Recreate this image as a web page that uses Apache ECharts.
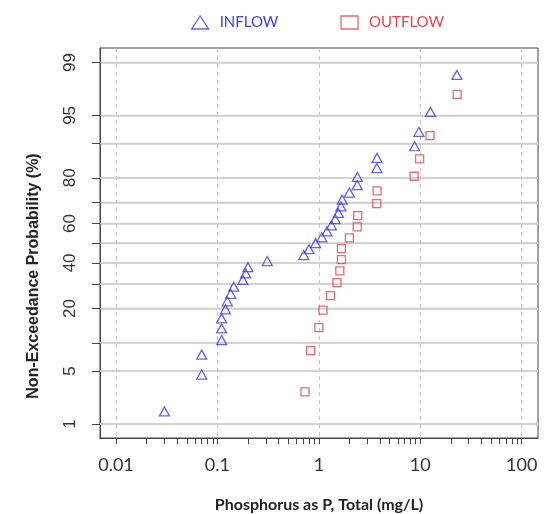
<!DOCTYPE html>
<html>
<head>
<meta charset="utf-8">
<script src="https://cdn.jsdelivr.net/npm/echarts@6.0.0/dist/echarts.min.js"></script>
<style>
  html, body { margin: 0; padding: 0; background: #fff; }
  #chart { width: 549px; height: 514px; }
</style>
</head>
<body>
<div id="chart"></div>
<script>
// concentrations (mg/L) and plotting positions (%)
const inflowConc = [0.03, 0.07, 0.07, 0.11, 0.11, 0.11, 0.12, 0.125, 0.135, 0.145, 0.178, 0.19, 0.2, 0.31,
  0.71, 0.8, 0.93, 1.07, 1.2, 1.33, 1.45, 1.56, 1.65, 1.7, 2.0, 2.39, 2.4, 3.73, 3.75, 8.8, 9.7, 12.6, 23.0];
const inflowProb = [1.52, 4.55, 7.58, 10.61, 13.64, 16.67, 19.7, 22.73, 25.76, 28.79, 31.82, 34.85, 37.88, 40.91,
  43.94, 46.97, 50.0, 53.03, 56.06, 59.09, 62.12, 65.15, 68.18, 71.21, 74.24, 77.27, 80.3, 83.33, 86.36, 89.39, 92.42, 95.45, 98.48];
const outflowConc = [0.73, 0.83, 1.0, 1.1, 1.3, 1.51, 1.61, 1.67, 1.67, 2.0, 2.39, 2.42, 3.72, 3.75, 8.7, 9.85, 12.5, 23.1];
const outflowProb = [2.78, 8.33, 13.89, 19.44, 25.0, 30.56, 36.11, 41.67, 47.22, 52.78, 58.33, 63.89, 69.44, 75.0,
  80.56, 86.11, 91.67, 97.22];

const xDecades = [0.01, 0.1, 1, 10, 100];
const yLabelProbs = [1, 5, 20, 40, 60, 80, 95, 99];
const yGridProbs = [1, 5, 10, 20, 30, 40, 50, 60, 70, 80, 90, 95, 99];

const blue = '#3f3fd6';
const red = '#e0474c';

// inverse normal cdf (Acklam) -> probability axis
function qnorm(p) {
  const a = [-39.69683028665376, 220.9460984245205, -275.9285104469687, 138.357751867269, -30.66479806614716, 2.506628277459239];
  const b = [-54.47609879822406, 161.5858368580409, -155.6989798598866, 66.80131188771972, -13.28068155288572];
  const c = [-0.007784894002430293, -0.3223964580411365, -2.400758277161838, -2.549732539343734, 4.374664141464968, 2.938163982698783];
  const d = [0.007784695709041462, 0.3224671290700398, 2.445134137142996, 3.754408661907416];
  const pl = 0.02425;
  let q, r;
  if (p < pl) {
    q = Math.sqrt(-2 * Math.log(p));
    return (((((c[0] * q + c[1]) * q + c[2]) * q + c[3]) * q + c[4]) * q + c[5]) / ((((d[0] * q + d[1]) * q + d[2]) * q + d[3]) * q + 1);
  }
  if (p > 1 - pl) {
    q = Math.sqrt(-2 * Math.log(1 - p));
    return -(((((c[0] * q + c[1]) * q + c[2]) * q + c[3]) * q + c[4]) * q + c[5]) / ((((d[0] * q + d[1]) * q + d[2]) * q + d[3]) * q + 1);
  }
  q = p - 0.5;
  r = q * q;
  return (((((a[0] * r + a[1]) * r + a[2]) * r + a[3]) * r + a[4]) * r + a[5]) * q / (((((b[0] * r + b[1]) * r + b[2]) * r + b[3]) * r + b[4]) * r + 1);
}

const toPoints = (conc, prob) => conc.map((c, i) => [Math.log10(c), qnorm(prob[i] / 100)]);

const xTicks = [];
xDecades.forEach((d, i) => {
  if (i < xDecades.length - 1) {
    for (let k = 1; k <= 9; k++) xTicks.push(Math.log10(k * d));
  } else {
    xTicks.push(Math.log10(d));
  }
});
const yTicks = yGridProbs.map((p) => qnorm(p / 100));

const xMin = -2.158, xMax = 2.161;
const yMin = -2.507, yMax = 2.512;

let chart = echarts.init(document.getElementById('chart'));

// horizontal probability grid lines, one thin line series per level
const gridSeries = yTicks.map((v, i) => ({
  name: 'grid' + i, type: 'line', xAxisIndex: 0, yAxisIndex: 0, z: 2,
  silent: true, symbol: 'none', showSymbol: false,
  lineStyle: { color: '#cfcfcf', width: 1.5 },
  data: [[xMin, v], [xMax, v]]
}));

let option = {
  animation: false,
  backgroundColor: '#fff',
  grid: {
    left: 100, right: 11, top: 48, bottom: 76,
    outerBoundsMode: 'none', containLabel: false,
    show: true, borderColor: '#444', borderWidth: 1
  },
  legend: {
    left: 186, top: 10,
    itemWidth: 17, itemHeight: 13, itemGap: 62,
    textStyle: { fontFamily: 'Lato', fontSize: 15, padding: [0, 0, 0, 6] },
    data: [
      { name: 'INFLOW', icon: 'triangle', itemStyle: { color: 'transparent', borderColor: blue, borderWidth: 1.3 }, textStyle: { color: blue } },
      { name: 'OUTFLOW', icon: 'rect', itemStyle: { color: 'transparent', borderColor: red, borderWidth: 1.3 }, textStyle: { color: red } }
    ]
  },
  xAxis: [
    {
      type: 'value', min: xMin, max: xMax, position: 'bottom',
      name: 'Phosphorus as P, Total (mg/L)',
      nameLocation: 'middle', nameGap: 59,
      nameTextStyle: { fontFamily: 'Lato', fontWeight: 'bold', fontSize: 16, color: '#222' },
      axisLine: { show: true, onZero: false, lineStyle: { color: '#444' } },
      axisTick: { show: true, length: 6, customValues: xTicks, lineStyle: { color: '#444' } },
      axisLabel: {
        customValues: xDecades.map((d) => Math.log10(d)),
        margin: 18, fontFamily: 'Lato', fontSize: 18, color: '#333',
        formatter: (v) => {
          const d = xDecades.find((x) => Math.abs(Math.log10(x) - v) < 1e-6);
          return d === undefined ? '' : String(d);
        }
      },
      splitLine: { show: false }
    },
    {
      type: 'value', min: xMin, max: xMax,
      axisLine: { show: false },
      axisTick: { show: false, customValues: xDecades.map((d) => Math.log10(d)) },
      axisLabel: { show: false },
      splitLine: { show: true, lineStyle: { color: '#c4c4c4', type: [4, 4], width: 1 } }
    }
  ],
  yAxis: {
    type: 'value', min: yMin, max: yMax, position: 'left',
    name: 'Non-Exceedance Probability (%)',
    nameLocation: 'middle', nameGap: 58,
    nameTextStyle: { fontFamily: 'Liberation Sans', fontWeight: 'bold', fontSize: 16, color: '#222', padding: [0, 66, 0, 0] },
    axisLine: { show: true, onZero: false, lineStyle: { color: '#444' } },
    axisTick: { show: true, length: 8, customValues: yTicks, lineStyle: { color: '#444' } },
    axisLabel: {
      customValues: yLabelProbs.map((p) => qnorm(p / 100)),
      rotate: 90, margin: 21, fontFamily: 'Liberation Sans', fontSize: 17, color: '#333',
      formatter: (v) => {
        const p = yLabelProbs.find((x) => Math.abs(qnorm(x / 100) - v) < 1e-6);
        return p === undefined ? '' : String(p);
      }
    },
    splitLine: { show: true, lineStyle: { color: '#cfcfcf', width: 1.5 } }
  },
  series: [
    ...gridSeries,
    {
      name: 'INFLOW', type: 'scatter', xAxisIndex: 0, yAxisIndex: 0, z: 3,
      symbol: 'triangle', symbolSize: [10, 9],
      itemStyle: { color: 'transparent', borderColor: blue, borderWidth: 1.3 },
      data: toPoints(inflowConc, inflowProb)
    },
    {
      name: 'OUTFLOW', type: 'scatter', xAxisIndex: 0, yAxisIndex: 0, z: 3,
      symbol: 'rect', symbolSize: 8,
      itemStyle: { color: 'transparent', borderColor: red, borderWidth: 1.3 },
      data: toPoints(outflowConc, outflowProb)
    }
  ]
};

chart.setOption(option);
</script>
</body>
</html>
